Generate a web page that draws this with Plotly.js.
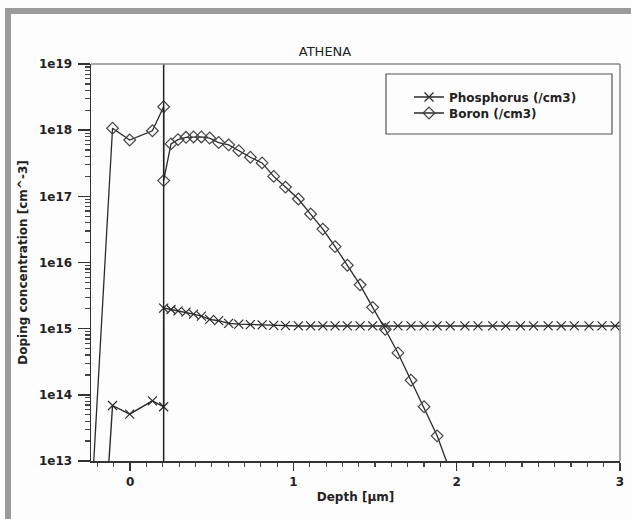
<!DOCTYPE html>
<html>
<head>
<meta charset="utf-8">
<script src="https://cdn.plot.ly/plotly-3.0.1.min.js"></script>
<style>
  html, body { margin: 0; padding: 0; background: #ffffff; }
  #wrap { position: relative; width: 631px; height: 519px; overflow: hidden; background: #fdfdfd; }
  #chart { position: absolute; left: 0; top: 0; width: 631px; height: 519px; }
  #frame { position: absolute; left: 5px; top: 8px; width: 700px; height: 600px;
           border-top: 6px solid #9b9b9b; border-left: 6px solid #9b9b9b; pointer-events: none; }
</style>
</head>
<body>
<div id="wrap">
  <div id="chart"></div>
  <div id="frame"></div>
</div>
<script>
// ---- data ----
const boronDepth = [-0.235, -0.108, -0.003, 0.136, 0.205, 0.205, 0.25, 0.293, 0.342, 0.388, 0.436, 0.487,
  0.542, 0.603, 0.665, 0.736, 0.808, 0.879, 0.951, 1.03, 1.105, 1.18, 1.255, 1.33, 1.408, 1.485,
  1.562, 1.64, 1.72, 1.8, 1.88, 1.96];
const boronConc = [3e12, 1.07e18, 7.1e17, 9.8e17, 2.26e18, 1.73e17, 6.2e17, 7.2e17, 7.8e17, 7.9e17, 7.9e17, 7.6e17,
  6.5e17, 6.0e17, 4.9e17, 3.9e17, 3.2e17, 2.0e17, 1.38e17, 9.1e16, 5.4e16, 3.2e16, 1.74e16, 9.1e15, 4.6e15, 2.1e15,
  9.8e14, 4.3e14, 1.66e14, 6.6e13, 2.4e13, 7e12];

const phosDepth = [-0.235, -0.108, -0.003, 0.136, 0.205, 0.205, 0.25, 0.293, 0.342, 0.388, 0.436, 0.487,
  0.542, 0.603, 0.665, 0.736, 0.808, 0.879, 0.951, 1.03, 1.105, 1.18, 1.255, 1.33, 1.408, 1.485,
  1.562, 1.64, 1.72, 1.8, 1.88, 1.96, 2.05, 2.13, 2.22, 2.30, 2.39, 2.47, 2.56, 2.64, 2.72, 2.81,
  2.89, 2.97, 3.06];
const phosConc = [1e9, 6.9e13, 5.1e13, 8.1e13, 6.6e13, 2.04e15, 1.95e15, 1.86e15, 1.78e15, 1.66e15, 1.55e15, 1.38e15,
  1.32e15, 1.2e15, 1.17e15, 1.15e15, 1.14e15, 1.12e15, 1.11e15, 1.1e15, 1.1e15, 1.1e15, 1.1e15, 1.1e15, 1.1e15, 1.1e15,
  1.1e15, 1.1e15, 1.1e15, 1.1e15, 1.1e15, 1.1e15, 1.1e15, 1.1e15, 1.1e15, 1.1e15, 1.1e15, 1.1e15, 1.1e15, 1.1e15, 1.1e15, 1.1e15,
  1.1e15, 1.1e15, 1.1e15];

const boundaryDepth = 0.205;
const yTickVals = [1e13, 1e14, 1e15, 1e16, 1e17, 1e18, 1e19];
const yTickText = ['1e13', '1e14', '1e15', '1e16', '1e17', '1e18', '1e19'];
const xTickVals = [0, 1, 2, 3];
const xTickText = ['0', '1', '2', '3'];
const seriesNames = ['Phosphorus (/cm3)', 'Boron (/cm3)'];

// ---- drawing ----
const W = 631, H = 519;
const M = {l: 91, r: 11, t: 64, b: 58};
const pw = W - M.l - M.r, ph = H - M.t - M.b;
const px2paperX = v => (v - M.l) / pw;
const px2paperY = v => (H - M.b - v) / ph;

const F = 'DejaVu Sans, Verdana, sans-serif';
const ink = '#2a2a2a';

const traces = [
  {
    x: phosDepth, y: phosConc, name: seriesNames[0], type: 'scatter', mode: 'lines+markers',
    line: {color: ink, width: 1.4},
    marker: {symbol: 'x-thin-open', size: 9, color: ink, line: {color: ink, width: 1.2}},
    legend: 'legend'
  },
  {
    x: boronDepth, y: boronConc, name: seriesNames[1], type: 'scatter', mode: 'lines+markers',
    line: {color: ink, width: 1.3},
    marker: {symbol: 'diamond-open', size: 9, color: '#444', line: {color: '#444', width: 1.2}},
    legend: 'legend2'
  }
];

const legendCommon = {
  xref: 'paper', yref: 'paper', xanchor: 'left', yanchor: 'middle',
  bgcolor: 'rgba(0,0,0,0)', borderwidth: 0,
  font: {family: F, size: 12, color: '#222', weight: 'bold'}
};

const layout = {
  width: W, height: H,
  margin: M,
  paper_bgcolor: 'rgba(0,0,0,0)', plot_bgcolor: 'rgba(0,0,0,0)',
  font: {family: F, size: 12, color: '#222'},
  title: {text: 'ATHENA', xref: 'container', yref: 'container', x: 325 / W, y: 1 - 51 / H,
          xanchor: 'center', yanchor: 'middle', font: {family: F, size: 13, color: '#222'}},
  xaxis: {
    range: [-0.24, 3], tickmode: 'array', tickvals: xTickVals, ticktext: xTickText,
    ticks: 'outside', ticklen: 8, tickwidth: 1.5, tickcolor: '#333',
    minor: {dtick: 0.1, tick0: 0, ticks: 'outside', ticklen: 4, tickwidth: 1.2, tickcolor: '#444'},
    showline: true, linecolor: '#333', linewidth: 1.5, showgrid: false, zeroline: false,
    tickfont: {family: F, size: 12, color: '#222', weight: 'bold'},
    ticklabelstandoff: 1,
    title: {text: 'Depth [µm]', font: {family: F, size: 12, color: '#222', weight: 'bold'}, standoff: 4}
  },
  yaxis: {
    type: 'log', range: [13, 19], tickmode: 'array', tickvals: yTickVals, ticktext: yTickText,
    ticks: 'outside', ticklen: 12, tickwidth: 1.5, tickcolor: '#333',
    minor: {dtick: 'D1', ticks: 'outside', ticklen: 5, tickwidth: 1.2, tickcolor: '#444'},
    showline: true, linecolor: '#333', linewidth: 1.5, showgrid: false, zeroline: false,
    tickfont: {family: F, size: 12, color: '#222', weight: 'bold'},
    ticklabelstandoff: 3,
    title: {text: 'Doping concentration [cm^-3]', font: {family: F, size: 12, color: '#222', weight: 'bold'}, standoff: 8}
  },
  showlegend: true,
  legend: Object.assign({x: px2paperX(409), y: px2paperY(97)}, legendCommon),
  legend2: Object.assign({x: px2paperX(409), y: px2paperY(113)}, legendCommon),
  shapes: [
    {type: 'line', xref: 'x', yref: 'paper', x0: boundaryDepth, x1: boundaryDepth, y0: 0, y1: 1,
     line: {color: '#222', width: 1.5}},
    {type: 'line', xref: 'paper', yref: 'paper', x0: 0, x1: 1, y0: 1, y1: 1, line: {color: '#8a8a8a', width: 1.5}},
    {type: 'line', xref: 'paper', yref: 'paper', x0: 1, x1: 1, y0: 0, y1: 1, line: {color: '#8a8a8a', width: 1.5}},
    {type: 'rect', xref: 'paper', yref: 'paper', x0: px2paperX(386), x1: px2paperX(612),
     y0: px2paperY(134), y1: px2paperY(74), line: {color: '#555', width: 1.2}, fillcolor: 'rgba(0,0,0,0)'}
  ]
};

Plotly.newPlot('chart', traces, layout, {displayModeBar: false, staticPlot: true});
</script>
</body>
</html>
